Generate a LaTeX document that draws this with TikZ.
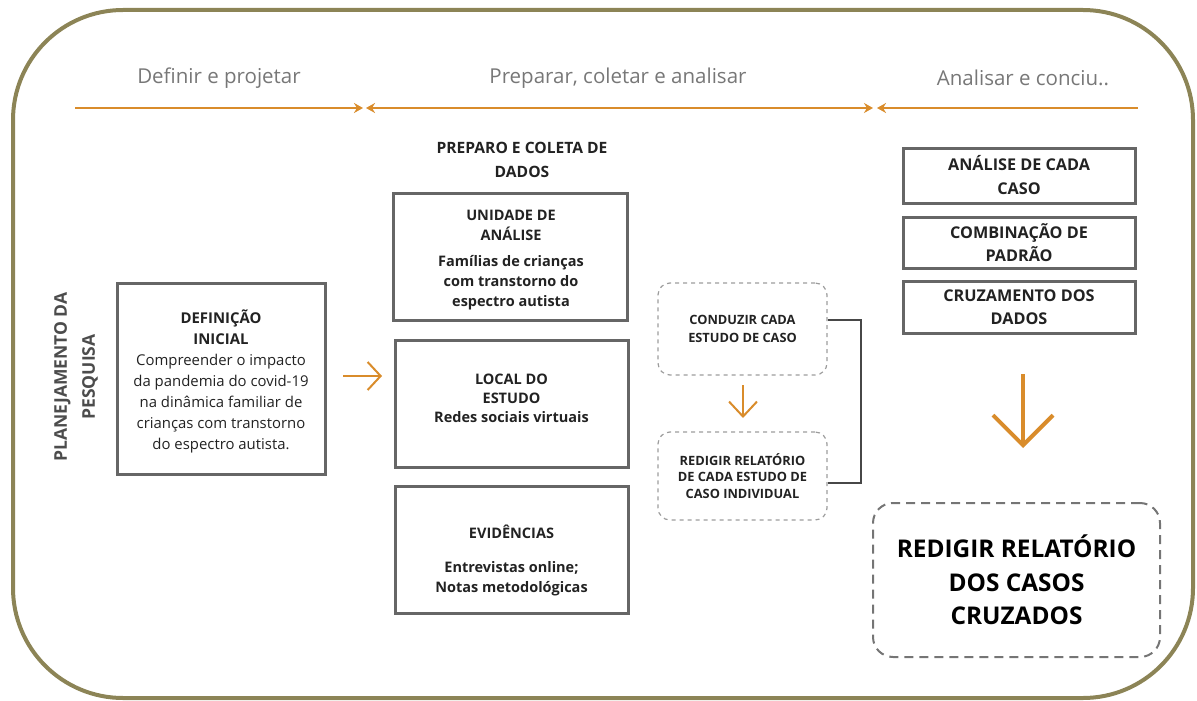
\documentclass[tikz,border=0pt]{standalone}
\usepackage{fontspec}
\setmainfont{Open Sans}
\usetikzlibrary{arrows.meta,calc}
\definecolor{frameolive}{HTML}{8C8456}
\definecolor{accent}{HTML}{D98C2B}
\definecolor{boxline}{HTML}{666666}
\definecolor{headgray}{HTML}{777777}
\definecolor{dashgray}{HTML}{9C9C9C}
\definecolor{inktext}{HTML}{222222}
\newcommand{\fsz}[2]{\fontsize{#1}{#2}\selectfont}

\begin{document}
\begin{tikzpicture}[x=1pt,y=-1pt,
  phase/.style={text=headgray,font=\fsz{20.5}{24}},
  tline/.style={draw=accent,line width=2},
  flowarrow/.style={draw=accent,line width=2,-{Straight Barb[length=13,width=28]}},
  solidbox/.style={draw=boxline,line width=3,rectangle,align=center,text=inktext,inner sep=0pt},
  boxtext/.style={align=center,text=inktext,inner sep=0pt},
  dashbox/.style={draw=dashgray,line width=1.2,dash pattern=on 4pt off 4pt,rounded corners=12,rectangle,align=center,text=inktext,inner sep=0pt},
  bigdash/.style={draw=boxline!90,line width=2,dash pattern=on 9pt off 6pt,rounded corners=20,rectangle,align=center,text=black,inner sep=0pt},
  bracket/.style={draw=boxline!120,line width=2}
]
\useasboundingbox (0,0) rectangle (1197,701);

% outer frame
\draw[frameolive,line width=4,rounded corners=110] (13,10) rectangle (1193,698);

% phase labels and timeline
\node[phase] (ph1) at (219,78) {Definir e projetar};
\node[phase] (ph2) at (618,78) {Preparar, coletar e analisar};
\node[phase] (ph3) at (1023,78) {Analisar e conciu..};
\coordinate (t0) at (75,108);
\coordinate (t1) at (363,108);
\coordinate (t2) at (366,108);
\coordinate (t3) at (873,108);
\coordinate (t4) at (877,108);
\coordinate (t5) at (1138,108);
\draw[tline,-{Stealth[length=9,width=10]}] (t0) -- (t1);
\draw[tline,{Stealth[length=9,width=10]}-{Stealth[length=9,width=10]}] (t2) -- (t3);
\draw[tline,{Stealth[length=9,width=10]}-] (t4) -- (t5);

% left column
\node[rotate=90,align=center,text=black!70,font=\bfseries\fsz{17.5}{28}] (plan) at (76,377) {PLANEJAMENTO DA\\PESQUISA};
\node[solidbox,minimum width=208,minimum height=191] (defbox) at (221,378.5) {};
\node[boxtext,font=\fsz{14.9}{21}] (deftext) at (221,381)
  {\bfseries DEFINIÇÃO\\\bfseries INICIAL\\\mdseries Compreender o impacto\\da pandemia do covid-19\\na dinâmica familiar de\\crianças com transtorno\\do espectro autista.};

% middle column
\node[boxtext,font=\bfseries\fsz{15.6}{24}] (prep) at (522,160) {PREPARO E COLETA DE\\DADOS};
\node[solidbox,minimum width=234,minimum height=127] (uni) at (510,256.5) {};
\node[boxtext,font=\bfseries\fsz{14.5}{20}] (unitext) at (511,260)
  {UNIDADE DE\\ANÁLISE\\[6pt]Famílias de crianças\\com transtorno do\\espectro autista};
\node[solidbox,minimum width=233,minimum height=127] (loc) at (511.5,403.5) {};
\node[boxtext,font=\bfseries\fsz{14.5}{19}] (loctext) at (511.5,398)
  {LOCAL DO\\ESTUDO\\Redes sociais virtuais};
\node[solidbox,minimum width=233,minimum height=127] (evi) at (511.5,549.5) {};
\node[boxtext,font=\bfseries\fsz{14.5}{20}] (evitext) at (511.5,560)
  {EVIDÊNCIAS\\[14pt]Entrevistas online;\\Notas metodológicas};

% case study loop
\node[dashbox,minimum width=169,minimum height=92,font=\bfseries\fsz{12.8}{18}] (cond) at (742.5,329)
  {CONDUZIR CADA\\ESTUDO DE CASO};
\node[dashbox,minimum width=169,minimum height=88,font=\bfseries\fsz{12.8}{16.5}] (red) at (742.5,476)
  {REDIGIR RELATÓRIO\\DE CADA ESTUDO DE\\CASO INDIVIDUAL};
\draw[bracket] ($(cond.east)+(0,-9)$) -- ++(33,0) |- ($(red.east)+(0,7)$);

% right column
\node[solidbox,minimum width=232,minimum height=55,font=\bfseries\fsz{16.2}{24}] (ana) at (1019,175.5)
  {ANÁLISE DE CADA\\CASO};
\node[solidbox,minimum width=232,minimum height=51,font=\bfseries\fsz{16.2}{23}] (comb) at (1019,242.5)
  {COMBINAÇÃO DE\\PADRÃO};
\node[solidbox,minimum width=232,minimum height=52,font=\bfseries\fsz{16.2}{23}] (cruz) at (1019,307)
  {CRUZAMENTO DOS\\DADOS};
\node[bigdash,minimum width=287,minimum height=154,font=\bfseries\fsz{24.4}{33.5}] (final) at (1016.5,580)
  {REDIGIR RELATÓRIO\\DOS CASOS\\CRUZADOS};

% flow arrows
\coordinate (a1s) at (343,376);
\coordinate (a1e) at (382,376);
\draw[flowarrow] (a1s) -- (a1e);
\coordinate (a2s) at (743,385);
\coordinate (a2e) at (743,418);
\draw[flowarrow,-{Straight Barb[length=15,width=28]}] (a2s) -- (a2e);
\coordinate (a3s) at (1023,374);
\coordinate (a3e) at (1023,448);
\draw[draw=accent,line width=4,-{Straight Barb[length=30,width=60]}] (a3s) -- (a3e);
\end{tikzpicture}
\end{document}
